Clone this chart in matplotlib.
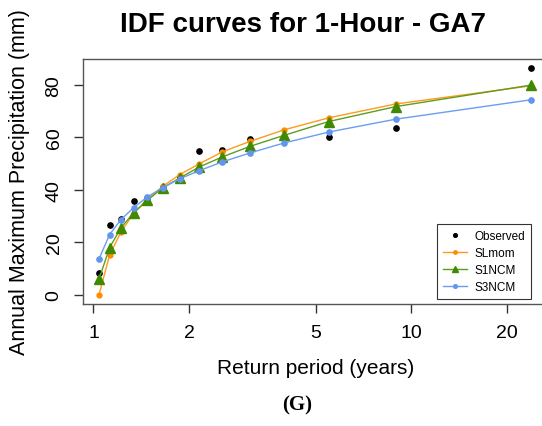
import matplotlib
matplotlib.use("Agg")
import matplotlib.pyplot as plt

# Return periods (years) of the plotted points
return_period = [1.041, 1.124, 1.221, 1.337, 1.477, 1.650, 1.868, 2.152,
                 2.54, 3.10, 3.97, 5.50, 8.95, 23.9]

observed = [8.2, 26.5, 28.8, 35.8, 37.0, 41.0, 44.8, 54.6,
            55.1, 59.5, 59.7, 60.0, 63.4, 86.3]
slmom = [0.0, 15.2, 24.0, 31.0, 36.4, 41.3, 45.8, 49.9,
         54.4, 58.4, 62.8, 67.4, 72.7, 79.6]
s1ncm = [6.0, 18.0, 25.6, 31.2, 36.0, 40.7, 44.5, 48.7,
         52.5, 56.5, 60.7, 66.0, 71.7, 79.9]
s3ncm = [13.7, 23.0, 28.7, 33.2, 37.3, 40.8, 44.2, 47.3,
         50.6, 54.0, 57.8, 62.0, 66.9, 74.3]

x_ticks = [1, 2, 5, 10, 20]
y_ticks = [0, 20, 40, 60, 80]

plt.rcParams['font.family'] = ['Liberation Sans', 'DejaVu Sans']

fig = plt.figure(figsize=(5.42, 4.27), dpi=100)
ax = fig.add_axes([0.1526, 0.2857, 0.860, 0.5738])

ax.plot(return_period, slmom, color='#FF9A1F', lw=1.0, marker='o', ms=3.5,
        mfc='#FF8C00', mec='#FF8C00', label='SLmom', zorder=3)
ax.plot(return_period, s1ncm, color='#5E9E1E', lw=1.0, marker='^', ms=6.5,
        mfc='#3F8A00', mec='#3F8A00', label='S1NCM', zorder=3)
ax.plot(return_period, s3ncm, color='#6A9EF0', lw=1.0, marker='o', ms=3.8,
        mfc='#6495ED', mec='#6495ED', label='S3NCM', zorder=3)
ax.plot(return_period, observed, ls='none', marker='o', ms=3.8, color='black',
        label='Observed', zorder=2)

ax.set_xscale('log')
ax.set_xlim(0.925, 27.1)
ax.set_ylim(-3.45, 89.8)
ax.set_xticks(x_ticks)
ax.set_xticklabels([str(t) for t in x_ticks])
ax.minorticks_off()
ax.set_yticks(y_ticks)
ax.set_yticklabels([str(t) for t in y_ticks], rotation=90, va='center')
ax.tick_params(direction='out', length=6.5, width=1, color='#333333',
               labelsize=14)
ax.tick_params(axis='x', pad=8)
ax.tick_params(axis='y', pad=8)

for sp in ax.spines.values():
    sp.set_color('#555555')
    sp.set_linewidth(1.0)

ax.set_xlabel('Return period (years)', fontsize=15, labelpad=12)
ax.set_ylabel('Annual Maximum Precipitation (mm)', fontsize=15.5, labelpad=11)

fig.text(303 / 542, 1 - 25 / 427, 'IDF curves for 1-Hour - GA7',
         fontsize=20, fontweight='bold', ha='center', va='center')
fig.text(297 / 542, 1 - 405 / 427, '(G)', fontsize=15, fontweight='bold',
         family='Liberation Serif', ha='center', va='center')

# legend: Observed first, then the fitted curves
handles, labels = ax.get_legend_handles_labels()
order = [3, 0, 1, 2]
leg = ax.legend([handles[i] for i in order], [labels[i] for i in order],
                loc='upper left', bbox_to_anchor=(437 / 542, 1 - 225 / 427),
                bbox_transform=fig.transFigure, borderaxespad=0,
                fontsize=8.5, fancybox=False, edgecolor='black',
                handlelength=2.0, handletextpad=0.6, labelspacing=0.4,
                borderpad=0.55, markerscale=0.7)
leg.get_frame().set_linewidth(0.8)

fig.savefig('out.png', dpi=100)
